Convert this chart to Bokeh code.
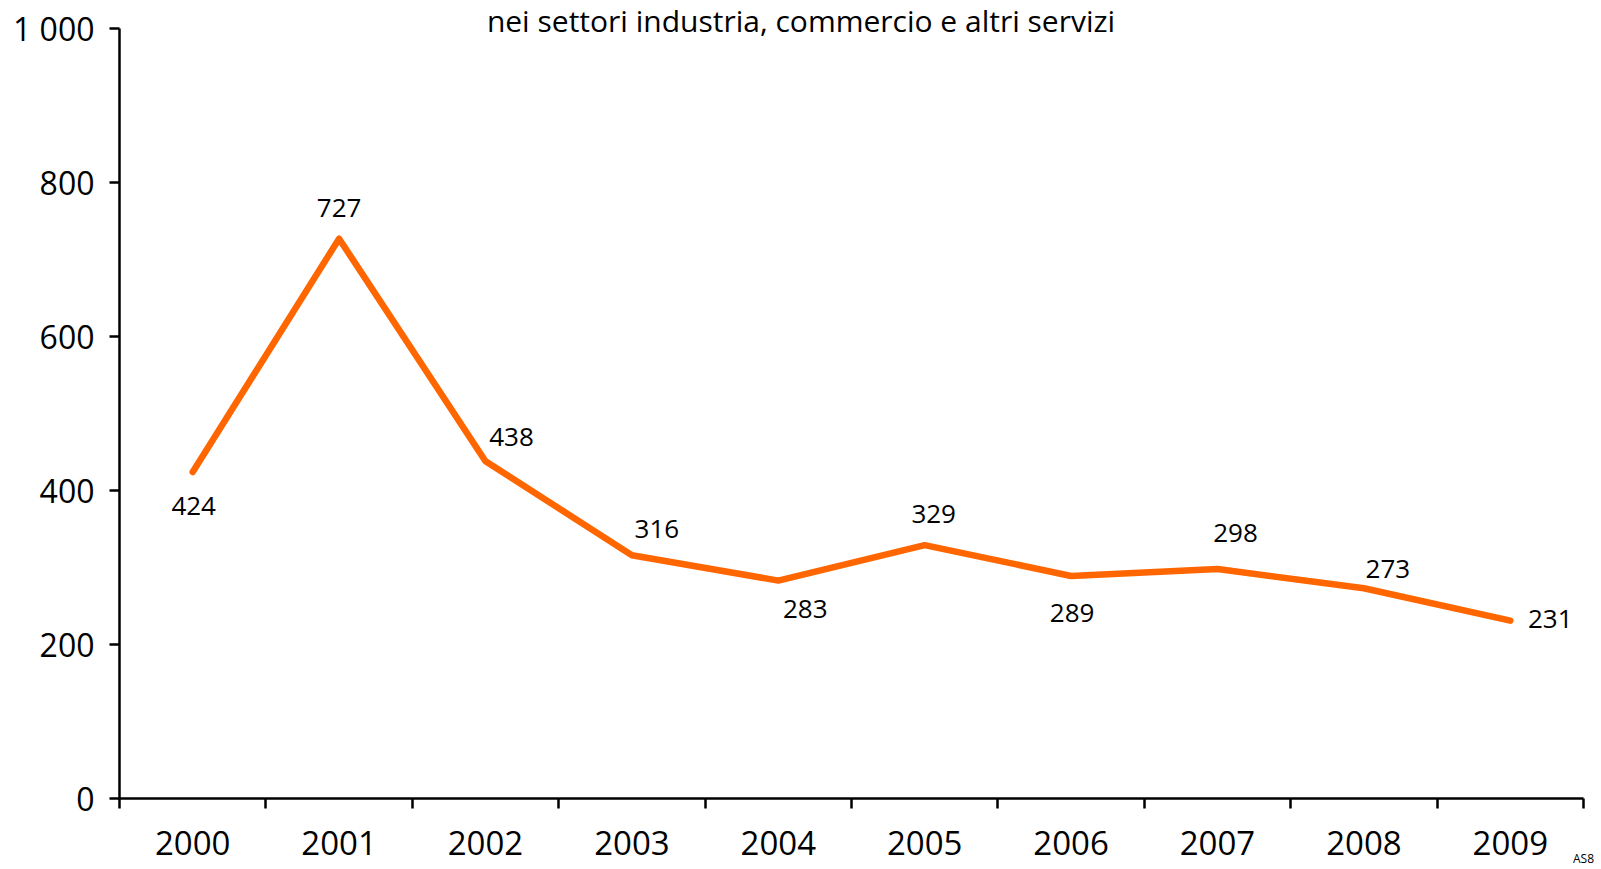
from bokeh.plotting import figure
from bokeh.models import FixedTicker, ColumnDataSource, LabelSet, Label, Range1d
from bokeh.embed import file_html
from bokeh.resources import INLINE
from bokeh.core.properties import value

# ---- data ----
years = ["2000", "2001", "2002", "2003", "2004", "2005", "2006", "2007", "2008", "2009"]
values = [424, 727, 438, 316, 283, 329, 289, 298, 273, 231]
y_ticks = [0, 200, 400, 600, 800, 1000]
y_tick_labels = ["0", "200", "400", "600", "800", "1 000"]
y_max = 1000
subtitle = "nei settori industria, commercio e altri servizi"
source_note = "AS8"

# ---- layout of the value labels (screen px offsets, y up) ----
label_dx = [1, 0, 26, 25, 27, 9, 1, 18, 24, 40]
label_dy = [-34, 31, 24, 26, -28, 31, -37, 36, 19, 2]

FONT = "Open Sans"
ORANGE = "#FF6600"

W, H = 1601, 869
LEFT, RIGHT, BOTTOM = 119, 18, 71
TOP_GAP = 28                      # px between canvas top and the 1 000 gridline
FRAME_H = H - BOTTOM              # frame reaches the top of the canvas
y_top = y_max * FRAME_H / (FRAME_H - TOP_GAP)

x_pos = [i + 0.5 for i in range(len(years))]
src = ColumnDataSource(dict(x=x_pos, y=values, txt=[str(v) for v in values],
                            dx=label_dx, dy=label_dy))

p = figure(width=W, height=H, output_backend="svg", toolbar_location=None,
           x_range=Range1d(0, len(years)), y_range=Range1d(0, y_top),
           min_border_left=LEFT, min_border_right=RIGHT, min_border_top=0,
           min_border_bottom=BOTTOM)
p.outline_line_color = None
p.grid.visible = False
p.background_fill_color = "white"
p.border_fill_color = "white"

p.line("x", "y", source=src, line_color=ORANGE, line_width=6.5,
       line_join="round", line_cap="round")

labels = LabelSet(x="x", y="y", text="txt", source=src, x_offset="dx", y_offset="dy",
                  text_align="center", text_baseline="middle",
                  text_font=value(FONT), text_font_size="26px", text_color="black")
p.add_layout(labels)

# x axis: labels at category centres, ticks at category boundaries
xa = p.xaxis[0]
xa.ticker = FixedTicker(ticks=x_pos, minor_ticks=list(range(len(years) + 1)))
xa.major_label_overrides = {xp: y for xp, y in zip(x_pos, years)}
xa.major_tick_out = 0
xa.major_tick_in = 0
xa.major_tick_line_color = None
xa.minor_tick_out = 10
xa.minor_tick_in = 0
xa.minor_tick_line_width = 2.5
xa.minor_tick_line_color = "black"
xa.axis_line_width = 2.5
xa.axis_line_color = "black"
xa.major_label_text_font = FONT
xa.major_label_text_font_size = "33px"
xa.major_label_text_color = "black"
xa.major_label_standoff = 22
# small source code at the bottom right, carried by the axis label
xa.axis_label = source_note
xa.axis_label_text_font = FONT
xa.axis_label_text_font_size = "12px"
xa.axis_label_text_font_style = "normal"
xa.axis_label_text_color = "black"
xa.axis_label_standoff = -8
if "axis_label_align" in xa.properties():
    xa.axis_label_align = "end"

ya = p.yaxis[0]
ya.ticker = FixedTicker(ticks=y_ticks, minor_ticks=[])
ya.bounds = (0, y_max)
ya.major_label_overrides = {t: l for t, l in zip(y_ticks, y_tick_labels)}
ya.major_tick_out = 10
ya.major_tick_in = 0
ya.major_tick_line_width = 2.5
ya.major_tick_line_color = "black"
ya.axis_line_width = 2.5
ya.axis_line_color = "black"
ya.major_label_text_font = FONT
ya.major_label_text_font_size = "32px"
ya.major_label_text_color = "black"
ya.major_label_standoff = 15

# subtitle line at the very top of the canvas (kept fully visible)
title = Label(x=(W / 2) - LEFT, y=FRAME_H - 20, x_units="screen", y_units="screen",
              text=subtitle, text_align="center", text_baseline="alphabetic",
              text_font=FONT, text_font_size="30px", text_color="black")
p.add_layout(title)

open("out.html", "w").write(file_html(p, INLINE))
